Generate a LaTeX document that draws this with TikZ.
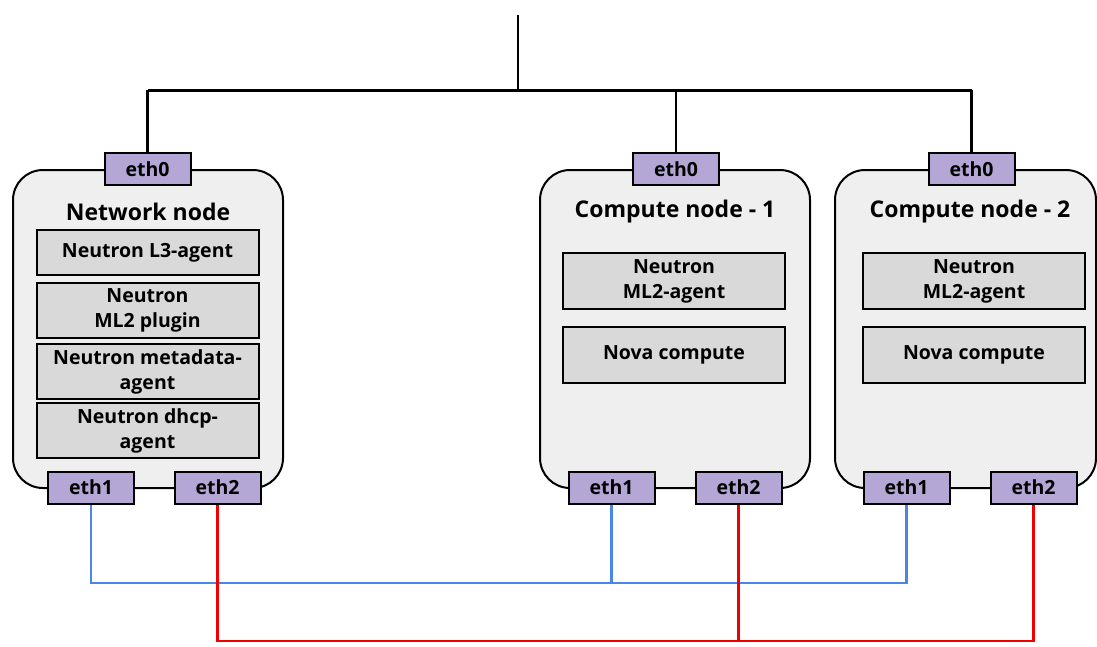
\documentclass[tikz,border=0pt]{standalone}
\usepackage{fontspec}
\setmainfont{Open Sans}
\usepackage{tikz}
\usetikzlibrary{calc}

\definecolor{hostgray}{HTML}{EFEFEF}
\definecolor{agentgray}{HTML}{D9D9D9}
\definecolor{ethpurple}{HTML}{B4A7D6}
\definecolor{lanblue}{HTML}{4A86E8}
\definecolor{lanred}{HTML}{EE0000}

\newcommand{\titlefont}{\fontsize{23}{28}\bfseries\selectfont}
\newcommand{\agentfont}{\fontsize{19.5}{25}\bfseries\selectfont}
\newcommand{\portfont}{\fontsize{19.5}{22}\bfseries\selectfont}

\begin{document}
\begin{tikzpicture}[x=1pt,y=-1pt,
  host/.style={draw,line width=2pt,rounded corners=30pt,fill=hostgray,
    minimum width=270pt,minimum height=318pt},
  hosttitle/.style={font=\titlefont},
  agent/.style={draw,line width=2pt,fill=agentgray,minimum width=222pt,
    inner sep=0pt,align=center,font=\agentfont},
  port/.style={draw,line width=2pt,fill=ethpurple,minimum width=86pt,
    minimum height=32pt,inner sep=0pt,font=\portfont},
  trunk/.style={line width=2.2pt},
  lanA/.style={line width=2.4pt,lanblue},
  lanB/.style={line width=2.4pt,lanred}]
  \useasboundingbox (0,0) rectangle (1097,646);

  % network node
  \node[host] (net) at (148,329) {};
  \node[hosttitle] (net-title) at (148,212) {Network node};
  \node[agent,minimum height=45pt] (net-l3) at (147.5,252.5) {Neutron L3-agent};
  \node[agent,minimum height=55pt] (net-ml2) at (147.5,310.5) {Neutron\\ML2 plugin};
  \node[agent,minimum height=55pt] (net-meta) at (147.5,371.5) {Neutron metadata-\\agent};
  \node[agent,minimum height=55pt] (net-dhcp) at (147.5,430.5) {Neutron dhcp-\\agent};
  \node[port] (net-eth0) at (147.5,169) {eth0};
  \node[port] (net-eth1) at (91,487.5) {eth1};
  \node[port] (net-eth2) at (217.5,487.5) {eth2};

  % compute nodes
  \node[host] (cmpA) at (675,329) {};
  \node[hosttitle] (cmpA-title) at (675,212) {Compute node - 1};
  \node[agent,minimum height=56pt] (cmpA-ml2) at (674,281) {Neutron\\ML2-agent};
  \node[agent,minimum height=56pt] (cmpA-nova) at (674,355) {Nova compute};
  \node[port] (cmpA-eth0) at (676,169) {eth0};
  \node[port] (cmpA-eth1) at (611.5,487.5) {eth1};
  \node[port] (cmpA-eth2) at (738.5,487.5) {eth2};

  \node[host,minimum width=261pt] (cmpB) at (965.5,329) {};
  \node[hosttitle] (cmpB-title) at (970,212) {Compute node - 2};
  \node[agent,minimum height=56pt] (cmpB-ml2) at (974,281) {Neutron\\ML2-agent};
  \node[agent,minimum height=56pt] (cmpB-nova) at (974,355) {Nova compute};
  \node[port] (cmpB-eth0) at (971.5,169) {eth0};
  \node[port] (cmpB-eth1) at (906.5,487.5) {eth1};
  \node[port] (cmpB-eth2) at (1033.5,487.5) {eth2};

  % management bus
  \coordinate (uplink) at (518,15);
  \coordinate (bus) at (0,90);
  \draw[trunk] (uplink) -- (uplink |- bus);
  \draw[trunk,line width=3pt] (net-eth0.north |- bus) -- (cmpB-eth0.north |- bus);
  \foreach \h in {net,cmpA,cmpB}
    \draw[trunk] (\h-eth0.north) -- (\h-eth0.north |- bus);

  % data and external links
  \coordinate (blueline) at (0,583);
  \coordinate (redline) at (0,641);
  \draw[lanA] (net-eth1.south) |- (cmpB-eth1.south |- blueline) -- (cmpB-eth1.south);
  \draw[lanA] (cmpA-eth1.south) -- (cmpA-eth1.south |- blueline);
  \draw[lanB] (net-eth2.south) |- (cmpB-eth2.south |- redline) -- (cmpB-eth2.south);
  \draw[lanB] (cmpA-eth2.south) -- (cmpA-eth2.south |- redline);
\end{tikzpicture}
\end{document}
